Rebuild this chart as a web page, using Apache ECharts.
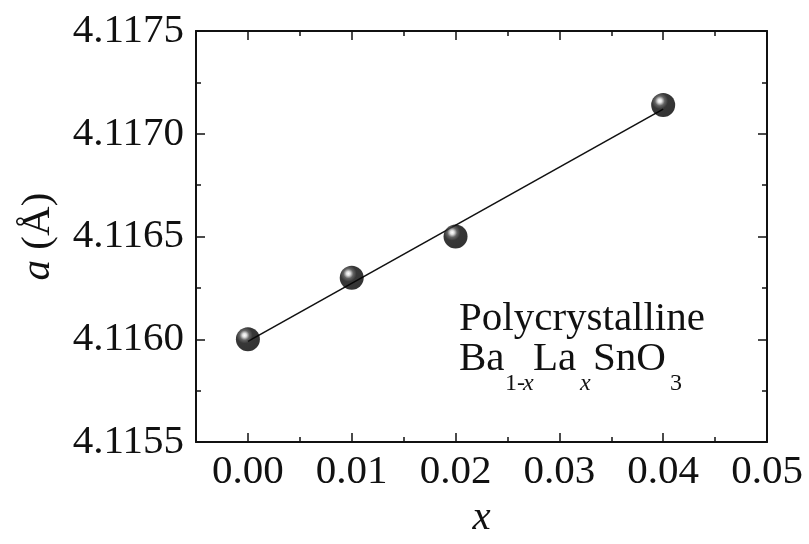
<!DOCTYPE html>
<html>
<head>
<meta charset="utf-8">
<script src="https://cdn.jsdelivr.net/npm/echarts@6/dist/echarts.min.js"></script>
<style>
html,body{margin:0;padding:0;background:#fff;}
#chart{width:809px;height:544px;}
</style>
</head>
<body>
<div id="chart"></div>
<script>
// Data
var xValues = [0.00, 0.01, 0.02, 0.04];
var aValues = [4.1160, 4.1163, 4.1165, 4.11714];
var fitX = [0.00, 0.04];
var fitA = [4.11599, 4.11712];

var xMin = -0.005, xMax = 0.05;
var yMin = 4.1155, yMax = 4.1175, yStep = 0.0005;

var FONT = 'Liberation Serif';
var INK = '#111111';
var FS = 41;

var chart = echarts.init(document.getElementById('chart'), null, {renderer: 'canvas'});

function pts(xs, ys) { return xs.map(function (x, i) { return [x, ys[i]]; }); }

var lineW = 2;
function xAxisMinor(pos, labels) {
  return {
    type: 'value', position: pos, min: xMin, max: xMax, interval: 0.005,
    axisLine: {show: true, onZero: false, lineStyle: {color: INK, width: lineW}},
    axisTick: {show: true, inside: true, length: 5, lineStyle: {color: INK, width: 1.5}},
    splitLine: {show: false},
    axisLabel: labels ? {
      show: true, margin: 10, fontSize: FS, fontFamily: FONT, color: INK,
      formatter: function (v) {
        var k = Math.round(v / 0.005);
        return (k % 2 === 0) ? v.toFixed(2) : '';
      }
    } : {show: false},
    name: labels ? 'x' : '',
    nameLocation: 'middle', nameGap: 52,
    nameTextStyle: {fontSize: FS, fontFamily: FONT, fontStyle: 'italic', color: INK}
  };
}
function xAxisMajor(pos) {
  // inverse axis so ticks counted from its min land on 0.05, 0.04, ... 0.00
  return {
    type: 'value', position: pos, min: 0, max: xMax - xMin, interval: 0.01, inverse: true,
    axisLine: {show: false, onZero: false},
    axisTick: {show: true, inside: true, length: 9, lineStyle: {color: INK, width: 1.5}},
    axisLabel: {show: false}, splitLine: {show: false}
  };
}
function yAxis(pos, labels) {
  return {
    type: 'value', position: pos, min: yMin, max: yMax, interval: yStep,
    axisLine: {show: true, onZero: false, lineStyle: {color: INK, width: lineW}},
    axisTick: {show: true, inside: true, length: 9, lineStyle: {color: INK, width: 1.5}},
    minorTick: {show: true, splitNumber: 2, length: 5, lineStyle: {color: INK, width: 1.5}},
    splitLine: {show: false}, minorSplitLine: {show: false},
    axisLabel: labels ? {
      show: true, margin: 12, fontSize: FS, fontFamily: FONT, color: INK,
      formatter: function (v) { return v.toFixed(4); }
    } : {show: false},
    name: labels ? '{i|a} (Å)' : '',
    nameLocation: 'middle', nameGap: 137,
    nameTextStyle: {
      fontSize: FS, fontFamily: FONT, color: INK,
      rich: {i: {fontSize: FS, fontFamily: FONT, fontStyle: 'italic', color: INK}}
    }
  };
}

var ball = {
  type: 'radial', x: 0.36, y: 0.33, r: 0.68,
  colorStops: [
    {offset: 0, color: '#ffffff'},
    {offset: 0.12, color: '#d8d8d8'},
    {offset: 0.3, color: '#3c3c3c'},
    {offset: 0.5, color: '#050505'},
    {offset: 1, color: '#000000'}
  ]
};

var txt = {fontSize: FS, fontFamily: FONT, fill: INK};
var sub = {fontSize: 24, fontFamily: FONT, fill: INK};

var option = {
  backgroundColor: '#ffffff',
  animation: false,
  grid: {left: 196, right: 42, top: 31, bottom: 96, containLabel: false},
  xAxis: [xAxisMinor('bottom', true), xAxisMajor('bottom'), xAxisMinor('top', false), xAxisMajor('top')],
  yAxis: [yAxis('left', true), yAxis('right', false)],
  series: [
    {
      type: 'line', xAxisIndex: 0, yAxisIndex: 0, data: pts(fitX, fitA),
      showSymbol: false, symbol: 'none',
      lineStyle: {color: '#111', width: 1.6}, z: 2
    },
    {
      type: 'scatter', xAxisIndex: 0, yAxisIndex: 0, data: pts(xValues, aValues),
      symbol: 'circle', symbolSize: 24,
      itemStyle: {color: ball, borderWidth: 0}, z: 3
    }
  ],
  graphic: [
    {type: 'text', left: 459, top: 299, style: Object.assign({text: 'Polycrystalline'}, txt)},
    {type: 'text', left: 459, top: 339, style: Object.assign({text: 'Ba'}, txt)},
    {type: 'text', left: 505, top: 372, style: Object.assign({text: '1-', }, sub)},
    {type: 'text', left: 523, top: 372, style: Object.assign({text: 'x', fontStyle: 'italic'}, sub)},
    {type: 'text', left: 533, top: 339, style: Object.assign({text: 'La'}, txt)},
    {type: 'text', left: 580, top: 372, style: Object.assign({text: 'x', fontStyle: 'italic'}, sub)},
    {type: 'text', left: 593, top: 339, style: Object.assign({text: 'SnO'}, txt)},
    {type: 'text', left: 670, top: 372, style: Object.assign({text: '3'}, sub)}
  ]
};
chart.setOption(option);
</script>
</body>
</html>
